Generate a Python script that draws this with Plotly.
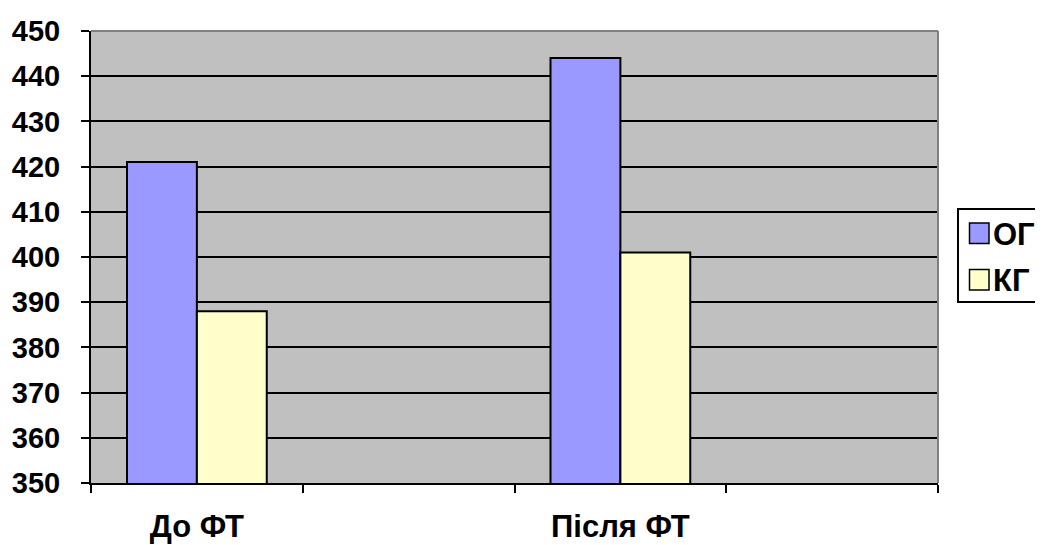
import plotly.graph_objects as go

categories = ["До ФТ", " ", "Після ФТ", "  "]
og_values = [421, None, 444, None]
kg_values = [388, None, 401, None]
series_names = ["ОГ", "КГ"]
colors = ["#9999FF", "#FFFFCC"]
series_values = [og_values, kg_values]

font_family = "Arial, Liberation Sans, sans-serif"
FS = 29
FS_X = 31
FS_LEG = 31

W, H = 1035, 537
ML, MR, MT, MB = 83, 105, 23, 62
PW, PH = W - ML - MR, H - MT - MB


def px(x):
    return (x - ML) / PW


def py(y):
    return (H - MB - y) / PH


fig = go.Figure()
for name, vals, col in zip(series_names, series_values, colors):
    fig.add_trace(go.Bar(
        x=categories, y=vals, name=name,
        marker=dict(color=col, line=dict(color="black", width=2)),
    ))

shapes = [
    dict(type="line", xref="paper", yref="paper", x0=0, x1=1, y0=1, y1=1,
         line=dict(color="#808080", width=2), layer="above"),
    dict(type="line", xref="paper", yref="paper", x0=1, x1=1, y0=0, y1=1,
         line=dict(color="#808080", width=2), layer="above"),
    # legend box
    dict(type="rect", xref="paper", yref="paper",
         x0=px(950), x1=px(1034), y0=py(294), y1=py(201),
         line=dict(color="black", width=2), fillcolor="white", layer="above"),
]
annotations = []
leg_top = [215, 261.5]
for i, (name, col) in enumerate(zip(series_names, colors)):
    t = leg_top[i]
    shapes.append(dict(type="rect", xref="paper", yref="paper",
                       x0=px(961.5), x1=px(981), y0=py(t + 20.5), y1=py(t),
                       line=dict(color="black", width=1.5), fillcolor=col,
                       layer="above"))
    annotations.append(dict(xref="paper", yref="paper", x=px(983), y=py(t + 11),
                            xanchor="left", yanchor="middle", showarrow=False,
                            text=f"<b>{name}</b>",
                            font=dict(size=FS_LEG, family=font_family, color="black")))

fig.update_layout(
    width=W, height=H,
    margin=dict(l=ML, r=MR, t=MT, b=MB, autoexpand=False),
    paper_bgcolor="white",
    plot_bgcolor="#C0C0C0",
    barmode="group",
    bargap=0.34,
    bargroupgap=0,
    font=dict(family=font_family, color="black", size=FS),
    showlegend=False,
    xaxis=dict(
        type="category", automargin=False,
        tickson="boundaries",
        ticks="outside", ticklen=8, tickwidth=2, tickcolor="black",
        showline=True, linecolor="black", linewidth=2,
        showgrid=False,
        tickfont=dict(size=FS_X, family=font_family, color="black", weight="bold"),
        ticklabelstandoff=15,
    ),
    yaxis=dict(
        range=[350, 450], dtick=10, tick0=350, automargin=False,
        ticks="outside", ticklen=8, tickwidth=2, tickcolor="black",
        showline=True, linecolor="black", linewidth=2,
        showgrid=True, gridcolor="black", gridwidth=2,
        zeroline=False,
        tickfont=dict(size=FS, family=font_family, color="black", weight="bold"),
        ticklabelstandoff=15,
    ),
    shapes=shapes,
    annotations=annotations,
)

fig.write_html("out.html")
